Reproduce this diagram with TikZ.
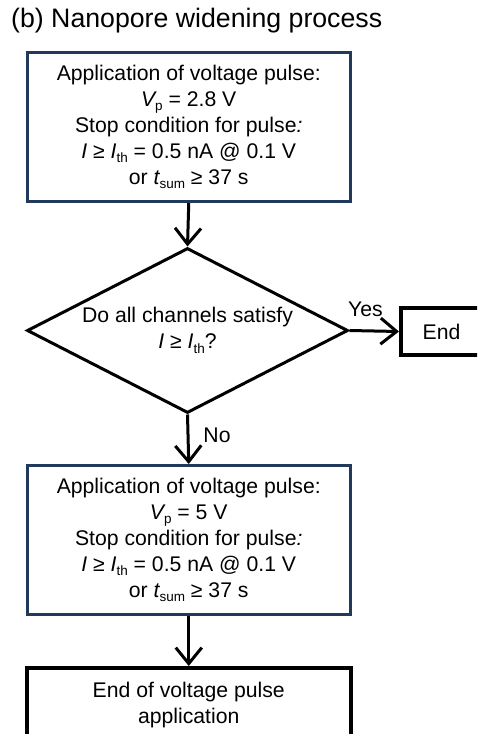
\documentclass[tikz,border=0pt]{standalone}
\usepackage{fontspec}
\setmainfont{Liberation Sans}
\usetikzlibrary{arrows.meta,shapes.geometric}
\definecolor{navy}{HTML}{213A5C}
\newcommand{\lowsub}[1]{\raisebox{-0.22em}{\fontsize{13.5}{14}\selectfont #1}}
\begin{document}
\begin{tikzpicture}[x=1pt,y=1pt,
  txt/.style={font=\fontsize{21.2}{26}\selectfont, align=center, inner sep=0pt},
  bluebox/.style={txt, draw=navy, line width=3pt, rectangle, minimum width=323.5pt, minimum height=149pt},
  blackbox/.style={txt, draw=black, line width=4pt, rectangle},
  decision/.style={txt, draw=black, line width=3pt, diamond, shape aspect=1.94, minimum width=321pt, minimum height=165pt},
  flow/.style={line width=3pt, -{Straight Barb[length=16pt,width=26pt]}},
  lbl/.style={font=\fontsize{21.2}{24}\selectfont, inner sep=0pt}
]
\useasboundingbox (0,0) rectangle (477,-734);
\clip (0,0) rectangle (477,-734);
\node[anchor=west, inner sep=0pt, font=\fontsize{26.7}{30}\selectfont] (title) at (11,-21) {(b) Nanopore widening process};

\node[bluebox] (box1) at (188.75,-127) {Application of voltage pulse:\\
{\itshape V}\lowsub{p} = 2.8 V\\
Stop condition for pulse{\itshape :}\\
{\itshape I} ≥ {\itshape I}\lowsub{th} = 0.5 nA @ 0.1 V\\
or {\itshape t}\lowsub{sum} ≥ 37 s};

\node[decision] (dec) at (187.5,-330.5) {Do all channels satisfy\\ {\itshape I} ≥ {\itshape I}\lowsub{th}?};

\node[blackbox, minimum width=81pt, minimum height=47pt] (end) at (441.5,-331.5) {End};

\node[bluebox] (box2) at (188.75,-540) {Application of voltage pulse:\\
{\itshape V}\lowsub{p} = 5 V\\
Stop condition for pulse{\itshape :}\\
{\itshape I} ≥ {\itshape I}\lowsub{th} = 0.5 nA @ 0.1 V\\
or {\itshape t}\lowsub{sum} ≥ 37 s};

\node[blackbox, minimum width=324pt, minimum height=75pt] (box3) at (188.75,-705.5) {End of voltage pulse\\ application};

\draw[flow] (box1.south) -- (dec.north);
\draw[flow] (dec.east) -- (end.west);
\draw[flow] (dec.south) -- (box2.north);
\draw[flow] (box2.south) -- (box3.north);

\node[lbl] (yes) at (365.5,-309) {Yes};
\node[lbl] (no) at (217,-435) {No};
\end{tikzpicture}
\end{document}
